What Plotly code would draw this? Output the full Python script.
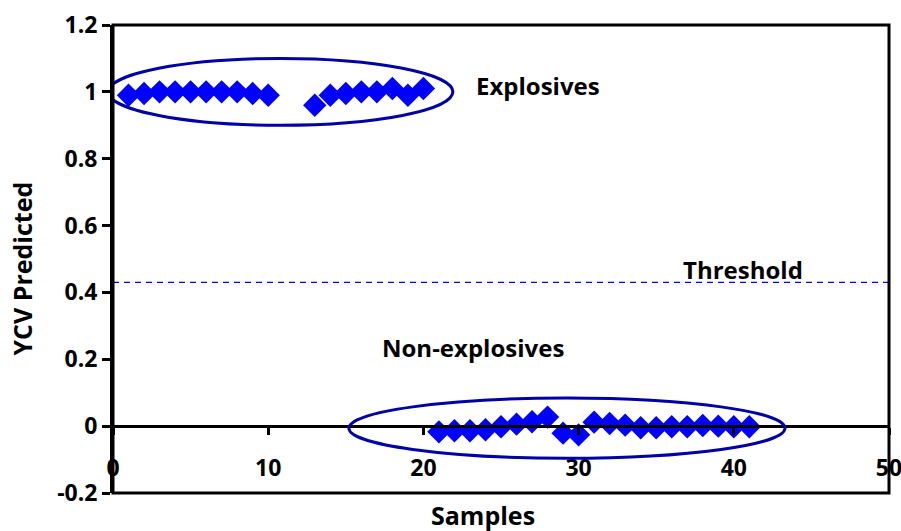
import plotly.graph_objects as go

# Cross-validated predictions per sample
explosive_samples = [1, 2, 3, 4, 5, 6, 7, 8, 9, 10, 13, 14, 15, 16, 17, 18, 19, 20]
explosive_pred = [0.99, 0.995, 1.0, 1.0, 1.0, 1.0, 1.0, 1.0, 0.995, 0.99,
                  0.96, 0.99, 0.995, 1.0, 1.0, 1.01, 0.99, 1.01]

nonexplosive_samples = list(range(21, 42))
nonexplosive_pred = [-0.017, -0.014, -0.014, -0.011, -0.002, 0.006, 0.013, 0.027,
                     -0.021, -0.026, 0.012, 0.008, 0.003, -0.005, -0.005, -0.002,
                     -0.002, 0.002, 0.0, -0.002, -0.002]

threshold = 0.43

x_range = [0, 50]
y_range = [-0.2, 1.2]
x_ticks = [0, 10, 20, 30, 40, 50]
y_ticks = [-0.2, 0, 0.2, 0.4, 0.6, 0.8, 1.0, 1.2]
y_ticktext = ["-0.2", "0", "0.2", "0.4", "0.6", "0.8", "1", "1.2"]

FONT = "Open Sans"
BLUE = "#0000FF"
NAVY = "#0000A8"

fig = go.Figure()

fig.add_trace(go.Scatter(
    x=explosive_samples + nonexplosive_samples,
    y=explosive_pred + nonexplosive_pred,
    mode="markers",
    marker=dict(symbol="diamond", size=18, color=BLUE, line=dict(width=0)),
    showlegend=False,
))

# Decision threshold
fig.add_trace(go.Scatter(
    x=x_range, y=[threshold, threshold],
    mode="lines",
    line=dict(color=BLUE, width=1.3, dash="6px,5px"),
    showlegend=False, hoverinfo="skip",
))

# Group outlines
fig.add_shape(type="circle", xref="x", yref="y", x0=-0.3, x1=21.9, y0=0.90, y1=1.10,
              line=dict(color=NAVY, width=3), layer="above")
fig.add_shape(type="circle", xref="x", yref="y", x0=15.2, x1=43.3, y0=-0.096, y1=0.084,
              line=dict(color=NAVY, width=3), layer="above")

# Plot frame
fig.add_shape(type="rect", xref="paper", yref="paper", x0=0, x1=1, y0=0, y1=1,
              line=dict(color="black", width=3), layer="above")

label_font = dict(family=FONT, size=24, color="black", weight="bold")
fig.add_annotation(x=27.4, y=1.02, text="Explosives", showarrow=False, font=label_font)
fig.add_annotation(x=23.2, y=0.235, text="Non-explosives", showarrow=False, font=label_font)
fig.add_annotation(x=40.6, y=0.47, text="Threshold", showarrow=False, font=label_font)

# Axis titles
title_font = dict(family=FONT, size=25, color="black", weight="bold")
fig.add_annotation(xref="paper", yref="paper", x=0.477, y=-0.048, yanchor="middle",
                   text="Samples", showarrow=False, font=title_font)
fig.add_annotation(xref="paper", yref="paper", x=-0.117, y=0.48,
                   xanchor="center", yanchor="middle", textangle=-90,
                   text="YCV Predicted", showarrow=False, font=title_font)

zero_pos = (0 - y_range[0]) / (y_range[1] - y_range[0])

tick_font = dict(family=FONT, size=23, color="black", weight="bold")

fig.update_layout(
    width=901, height=531,
    margin=dict(l=113, r=12, t=25, b=38, autoexpand=False),
    plot_bgcolor="white", paper_bgcolor="white",
    font=dict(family=FONT, size=23, color="black", weight="bold"),
    xaxis=dict(
        range=x_range, tickvals=x_ticks, showgrid=False, zeroline=False,
        showline=True, linecolor="black", linewidth=2.5,
        anchor="free", position=zero_pos, automargin=False,
        ticks="outside", ticklen=7, tickwidth=2.5, tickcolor="black",
        ticklabelstandoff=14, ticklabeloverflow="allow",
        tickfont=tick_font,
    ),
    yaxis=dict(
        range=y_range, tickvals=y_ticks, ticktext=y_ticktext,
        showgrid=False, zeroline=False, automargin=False,
        showline=True, linecolor="black", linewidth=3,
        ticks="outside", ticklen=8, tickwidth=2.5, tickcolor="black",
        tickfont=tick_font,
    ),
)

fig.write_html("out.html")
